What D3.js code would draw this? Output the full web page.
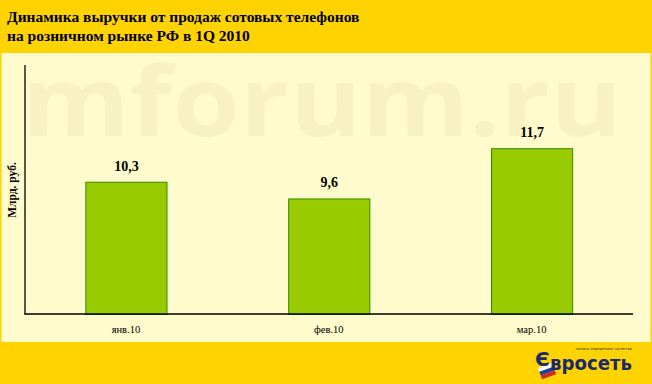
<!DOCTYPE html>
<html><head><meta charset="utf-8">
<script src="https://cdn.jsdelivr.net/npm/d3@7"></script>
<style>html,body{margin:0;padding:0;background:#FFD300;}svg{display:block;}</style>
</head><body>
<script>
const titleLines = ["Динамика выручки от продаж сотовых телефонов", "на розничном рынке РФ в 1Q 2010"];
const categories = ["янв.10", "фев.10", "мар.10"];
const values = [10.3, 9.6, 11.7];
const valueLabels = ["10,3", "9,6", "11,7"];
const yTitle = "Млрд. руб.";
const yDomain = [4.77, 15.2];

const W = 652, H = 384;
const svg = d3.select("body").append("svg").attr("width", W).attr("height", H);
svg.append("rect").attr("width", W).attr("height", H).attr("fill", "#FFD300");
// panel
svg.append("rect").attr("x", 1.5).attr("y", 53).attr("width", 649).attr("height", 289).attr("fill", "#FFFBCC");

// watermark
svg.append("text").attr("x", 22).attr("y", 136)
  .attr("font-family", "'Open Sans', 'DejaVu Sans', sans-serif").attr("font-weight", 700)
  .attr("font-size", 96).attr("fill", "#F8F1C2").attr("textLength", 600).attr("lengthAdjust", "spacingAndGlyphs")
  .text("mforum.ru");

// title
svg.selectAll("text.title").data(titleLines).join("text").attr("class", "title")
  .attr("x", 7).attr("y", (d, i) => 22 + i * 19)
  .attr("font-family", "'Liberation Serif', 'DejaVu Serif', serif").attr("font-weight", 700)
  .attr("font-size", 15.5).attr("fill", "#000").text(d => d);

const x0 = 24.5, x1 = 633, yBase = 314, yTop = 64.5;
const x = d3.scaleBand().domain(categories).range([x0, x1]).paddingInner(0.6).paddingOuter(0.3);
const y = d3.scaleLinear().domain(yDomain).range([yBase, yTop]);

// bars
svg.selectAll("rect.bar").data(values).join("rect").attr("class", "bar")
  .attr("x", (d, i) => x(categories[i]) + 0.5).attr("width", x.bandwidth())
  .attr("y", d => y(d) + 0.5).attr("height", d => yBase - y(d))
  .attr("fill", "#99CC00").attr("stroke", "#2E8B00").attr("stroke-width", 1);

// axes
const yAxis = d3.axisLeft(y).tickValues([]).tickSizeOuter(0);
svg.append("g").attr("transform", `translate(${x0},0)`).call(yAxis)
  .call(g => g.select(".domain").attr("stroke", "#000").attr("stroke-width", 1.3));
const xAxis = d3.axisBottom(x).tickSize(0).tickPadding(12);
svg.append("g").attr("transform", `translate(0,${yBase})`).call(xAxis)
  .call(g => g.select(".domain").attr("stroke", "#000").attr("stroke-width", 1.3).attr("d", `M${x0},0H${x1}`))
  .call(g => g.selectAll("text").attr("font-family", "'Liberation Serif', 'DejaVu Serif', serif")
    .attr("font-size", 10.5).attr("fill", "#000"));

// value labels
svg.selectAll("text.val").data(values).join("text").attr("class", "val")
  .attr("x", (d, i) => x(categories[i]) + x.bandwidth() / 2 + 0.5).attr("y", d => y(d) - 11)
  .attr("text-anchor", "middle").attr("font-family", "'Liberation Serif', 'DejaVu Serif', serif")
  .attr("font-weight", 700).attr("font-size", 14).attr("fill", "#000").text((d, i) => valueLabels[i]);

// y title
svg.append("text").attr("transform", "translate(16,190) rotate(-90)").attr("text-anchor", "middle")
  .attr("font-family", "'Liberation Serif', 'DejaVu Serif', serif").attr("font-weight", 700)
  .attr("font-size", 11.5).attr("fill", "#000").text(yTitle);

// logo
const logo = svg.append("g");
logo.append("text").attr("x", 632).attr("y", 350).attr("text-anchor", "end")
  .attr("font-family", "'DejaVu Sans', sans-serif").attr("font-size", 3.6).attr("fill", "#1B2A6B")
  .text("салоны определяют качество");
const flag = logo.append("g").attr("transform", "translate(538,368) rotate(-20)");
flag.append("rect").attr("x", 0).attr("y", 0).attr("width", 15).attr("height", 4).attr("fill", "#fff");
flag.append("rect").attr("x", 0).attr("y", 4).attr("width", 15).attr("height", 4).attr("fill", "#1C3FA8");
flag.append("rect").attr("x", 0).attr("y", 8).attr("width", 15).attr("height", 4).attr("fill", "#D52B1E");
logo.append("text").attr("x", 632).attr("y", 370).attr("text-anchor", "end")
  .attr("font-family", "'DejaVu Sans', sans-serif").attr("font-weight", 700).attr("font-size", 19)
  .attr("fill", "#1B2A6B").attr("textLength", 82).attr("lengthAdjust", "spacingAndGlyphs").text("вросеть");
logo.append("text").attr("x", 535).attr("y", 366)
  .attr("font-family", "'DejaVu Sans', sans-serif").attr("font-weight", 700).attr("font-size", 20)
  .attr("fill", "#1B2A6B").text("Є");
</script>
</body></html>
